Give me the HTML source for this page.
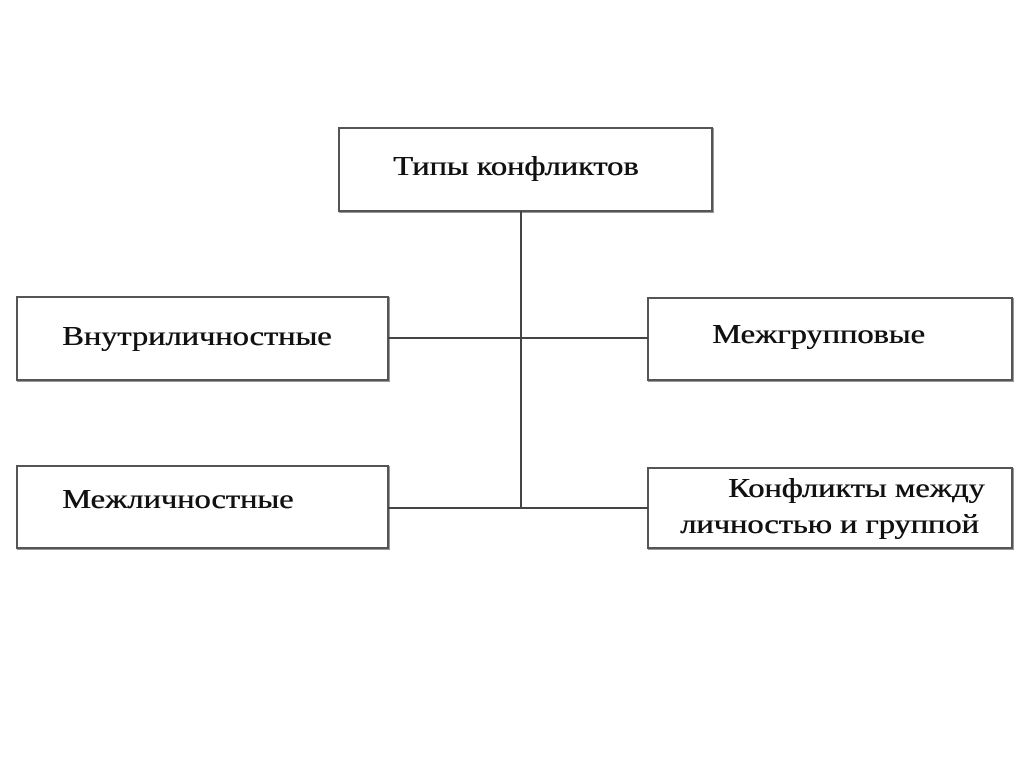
<!DOCTYPE html>
<html><head><meta charset="utf-8"><style>
body{margin:0;background:#fff;width:1024px;height:767px;position:relative;overflow:hidden;font-family:"Liberation Serif","Noto Serif CJK SC",serif;color:#111}
.b{position:absolute;border:2.5px solid #555;box-sizing:border-box;box-shadow:1px 1px 0 #999}
.t{position:absolute;font-size:27px;white-space:nowrap;transform:scaleX(1.2);transform-origin:0 0;text-shadow:0.5px 0 0 #111}
.l{position:absolute;background:#444}
</style></head><body>
<div class="b" style="left:338px;top:127px;width:375px;height:85px"></div>
<div class="b" style="left:16px;top:296px;width:373px;height:85px"></div>
<div class="b" style="left:647px;top:297px;width:366px;height:84px"></div>
<div class="b" style="left:16px;top:465px;width:373px;height:84px"></div>
<div class="b" style="left:647px;top:467px;width:366px;height:82px"></div>
<div class="l" style="left:520px;top:211px;width:2px;height:298px"></div>
<div class="l" style="left:388px;top:337px;width:260px;height:2px"></div>
<div class="l" style="left:388px;top:507px;width:260px;height:2px"></div>
<div class="t" style="left:393px;top:151px">Типы конфликтов</div>
<div class="t" style="left:62px;top:321px">Внутриличностные</div>
<div class="t" style="left:712px;top:319px">Межгрупповые</div>
<div class="t" style="left:62px;top:484px">Межличностные</div>
<div class="t" style="left:728px;top:473px">Конфликты между</div>
<div class="t" style="left:680px;top:509px">личностью и группой</div>
</body></html>
